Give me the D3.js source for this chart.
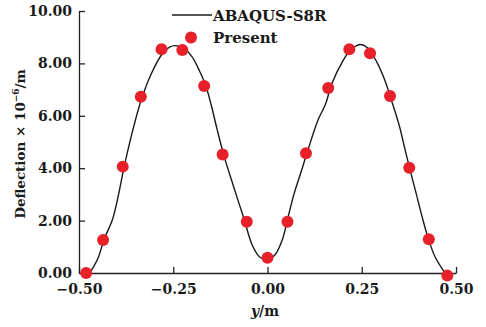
<!DOCTYPE html>
<html>
<head>
<meta charset="utf-8">
<script src="https://cdn.jsdelivr.net/npm/d3@7"></script>
<style>
  body { margin: 0; background: #fff; }
  text { font-family: "DejaVu Serif", serif; font-weight: bold; fill: #1a1a1a; }
</style>
</head>
<body>
<div class="chart"></div>
<script>
// ABAQUS-S8R curve
const abaqusY = [-0.471, -0.450, -0.433, -0.411, -0.395, -0.381, -0.360, -0.335, -0.310, -0.280, -0.260, -0.245,
  -0.225, -0.200, -0.180, -0.165, -0.150, -0.134, -0.116, -0.090, -0.063, -0.040, -0.020, 0.000,
  0.020, 0.040, 0.054, 0.070, 0.090, 0.104, 0.134, 0.154, 0.170, 0.200, 0.220, 0.245,
  0.265, 0.290, 0.310, 0.333, 0.350, 0.365, 0.377, 0.395, 0.410, 0.427, 0.445, 0.471];
const abaqusD = [0, 0.55, 1.30, 2.05, 3.0, 4.0, 5.3, 6.6, 7.55, 8.35, 8.62, 8.68,
  8.6, 8.25, 7.7, 7.2, 6.45, 5.5, 4.5, 3.3, 2.1, 1.05, 0.6, 0.52,
  0.7, 1.3, 2.1, 3.0, 3.9, 4.55, 5.84, 6.45, 7.2, 8.1, 8.5, 8.72,
  8.6, 8.05, 7.4, 6.4, 5.6, 4.7, 4.0, 3.0, 2.15, 1.29, 0.6, 0];

// Present results
const presentY = [-0.481, -0.436, -0.384, -0.336, -0.281, -0.226, -0.168, -0.119, -0.055, 0.0,
  0.053, 0.102, 0.161, 0.217, 0.272, 0.325, 0.376, 0.428, 0.477];
const presentD = [0, 1.26, 4.06, 6.73, 8.54, 8.51, 7.14, 4.52, 1.96, 0.58,
  1.96, 4.57, 7.06, 8.54, 8.39, 6.76, 4.02, 1.29, -0.1];

const xTicks = [-0.5, -0.25, 0, 0.25, 0.5];
const yTicks = [0, 2, 4, 6, 8, 10];

const width = 486;
const height = 327;

const svg = d3.select('.chart')
  .append('svg')
  .attr('width', width)
  .attr('height', height)

const x = d3.scaleLinear().domain([-0.5, 0.5]).range([79, 456]);
const y = d3.scaleLinear().domain([0, 10]).range([273, 11]);

// axes
const xAxis = svg.append('g')
  .attr('transform', `translate(0,${y(0)})`)
  .call(d3.axisBottom(x).tickValues(xTicks).tickSizeInner(-6).tickSizeOuter(0).tickPadding(11)
    .tickFormat(d => d3.format('.2f')(d).replace('-', '\u2212')));
xAxis.select('.domain').attr('stroke', '#222').attr('stroke-width', 1.3);
xAxis.selectAll('.tick line').attr('stroke', '#222').attr('stroke-width', 1.3);
xAxis.selectAll('text').attr('font-size', 14).attr('font-family', '"DejaVu Serif", serif').attr('fill', '#1a1a1a');

const yAxis = svg.append('g')
  .attr('transform', `translate(${x(-0.5)},0)`)
  .call(d3.axisLeft(y).tickValues(yTicks).tickSizeInner(-6).tickSizeOuter(0).tickPadding(7)
    .tickFormat(d3.format('.2f')));
yAxis.select('.domain').attr('stroke', '#222').attr('stroke-width', 1.3);
yAxis.selectAll('.tick line').attr('stroke', '#222').attr('stroke-width', 1.3);
yAxis.selectAll('text').attr('font-size', 14).attr('font-family', '"DejaVu Serif", serif').attr('fill', '#1a1a1a');

// curve
const line = d3.line()
  .x((d, i) => x(abaqusY[i]))
  .y((d, i) => y(abaqusD[i]))
  .curve(d3.curveCatmullRom);

svg.append('path')
  .datum(abaqusD)
  .attr('d', line)
  .attr('fill', 'none')
  .attr('stroke', '#1a1a1a')
  .attr('stroke-width', 1.4)

svg.selectAll('circle.present')
  .data(presentD)
  .enter()
  .append('circle')
  .attr('class', 'present')
  .attr('cx', (d, i) => x(presentY[i]))
  .attr('cy', d => y(d))
  .attr('r', 6)
  .attr('fill', '#e8202a')

// legend
svg.append('line')
  .attr('x1', 172).attr('x2', 212)
  .attr('y1', 15).attr('y2', 15)
  .attr('stroke', '#1a1a1a')
  .attr('stroke-width', 1.4)
svg.append('text')
  .attr('x', 213).attr('y', 21)
  .attr('font-size', 15)
  .text('ABAQUS-S8R')
svg.append('circle')
  .attr('cx', 191).attr('cy', 37.5)
  .attr('r', 6)
  .attr('fill', '#e8202a')
svg.append('text')
  .attr('x', 213).attr('y', 43)
  .attr('font-size', 15)
  .text('Present')

// axis titles
const yl = svg.append('text')
  .attr('transform', 'translate(25,144) rotate(-90)')
  .attr('text-anchor', 'middle')
  .attr('font-size', 13.5)
yl.append('tspan').text('Deflection \u00d7 10')
yl.append('tspan').attr('font-size', 9).attr('dy', -6).text('\u22126')
yl.append('tspan').attr('dy', 6).text('/m')

const xl = svg.append('text')
  .attr('x', 265).attr('y', 316)
  .attr('text-anchor', 'middle')
  .attr('font-size', 14)
xl.append('tspan').attr('font-style', 'italic').text('y')
xl.append('tspan').text('/m')
</script>
</body>
</html>
